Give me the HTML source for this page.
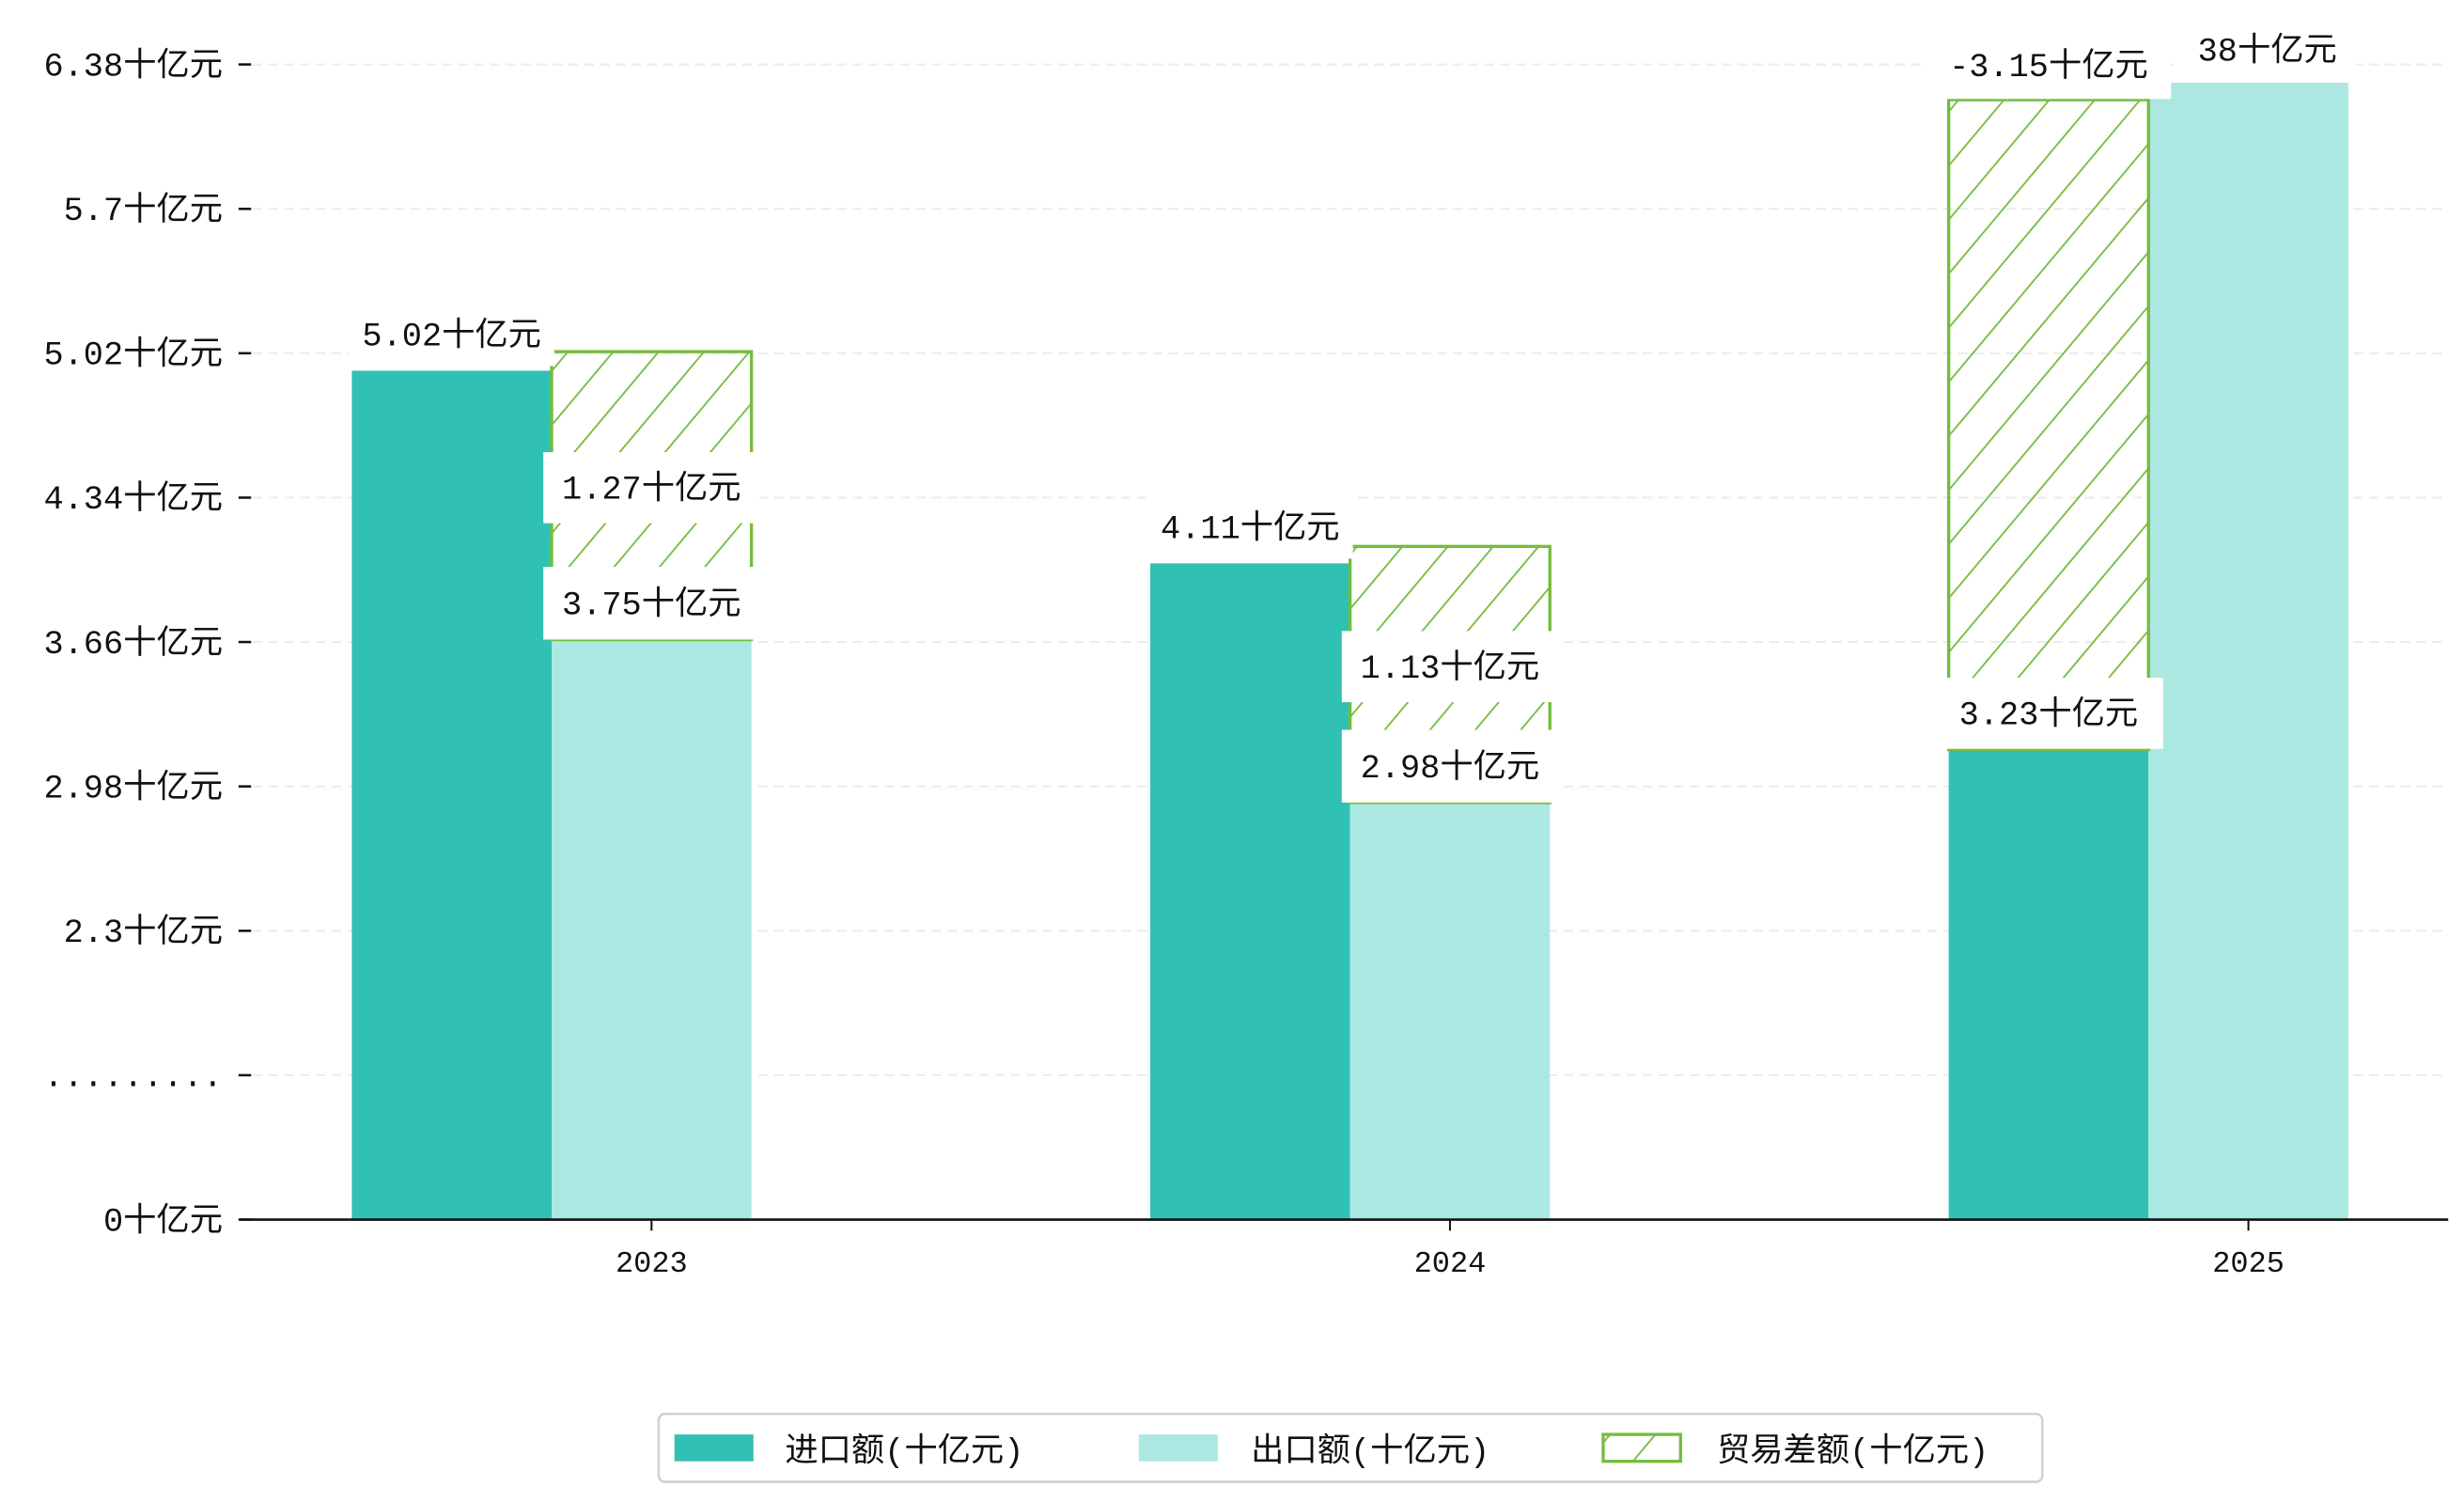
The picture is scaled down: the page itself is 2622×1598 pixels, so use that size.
<!DOCTYPE html>
<html><head><meta charset="utf-8"><style>
html,body{margin:0;padding:0;background:#fff;}
svg{display:block;}
text{font-family:"Liberation Mono","WenQuanYi Zen Hei","Noto Sans CJK SC",monospace;fill:#111;}
</style></head><body>
<svg id="chart" width="2622" height="1598" viewBox="0 0 1560 950.76" xmlns="http://www.w3.org/2000/svg">
<defs>
<pattern id="hatch" patternUnits="userSpaceOnUse" width="22" height="22" patternTransform="rotate(40)">
<line x1="0" y1="0" x2="0" y2="22" stroke="#76bc3e" stroke-width="2.2"/>
</pattern>
</defs>
<g id="grid"></g>
<g id="bars"></g>
<g id="labels"></g>
<g id="axes"></g>
<g>
<rect x="417" y="895" width="876" height="43" rx="4" fill="#fff" stroke="#d0d0d0" stroke-width="1.5"/>
<rect x="427" y="908" width="50" height="17" fill="#31c1b4"/>
<text x="497" y="925" font-size="21">进口额(十亿元)</text>
<rect x="721" y="908" width="50" height="17" fill="#abe8e2"/>
<text x="792" y="925" font-size="21">出口额(十亿元)</text>
<rect x="1015" y="908" width="49" height="17" fill="url(#hatch)" stroke="#76bc3e" stroke-width="2"/>
<text x="1087" y="925" font-size="21">贸易差额(十亿元)</text>
</g>
</svg>
<script>
const categories = ['2023','2024','2025'];
const importVals = [5.02, 4.11, 3.23];
const exportVals = [3.75, 2.98, 6.38];
const balanceLow = [3.75, 2.98, 3.23];
const balanceHigh = [5.11, 4.19, 6.30];
const balanceLabels = ['1.27十亿元','1.13十亿元','-3.15十亿元'];
const importLabels = ['5.02十亿元','4.11十亿元','3.23十亿元'];
const exportLabels = ['3.75十亿元','2.98十亿元','38十亿元'];
const yTickLabels = ['0十亿元','.........','2.3十亿元','2.98十亿元','3.66十亿元','4.34十亿元','5.02十亿元','5.7十亿元','6.38十亿元'];

const NS='http://www.w3.org/2000/svg';
function mk(tag, attrs, parent){const e=document.createElementNS(NS,tag);for(const k in attrs)e.setAttribute(k,attrs[k]);parent.appendChild(e);return e;}
const baseY=772, xL=152, xR=1550;
const y = v => baseY - (v - 1.01) * 134;
const groupX = i => 412.5 + i * 505.5;
const bw = 126.5;
const grid=document.getElementById('grid'), bars=document.getElementById('bars'), labels=document.getElementById('labels'), axes=document.getElementById('axes');

yTickLabels.forEach((t,i)=>{
  const ty = baseY - i*91.4;
  if(i>0){const g=mk('line',{x1:160,x2:xR,y1:ty,y2:ty,stroke:'#ececec','stroke-width':1.2,'stroke-dasharray':'6,4'},grid);
    
    }
  const tk=mk('line',{x1:151,x2:159,y1:ty,y2:ty,stroke:'#111','stroke-width':1.5},axes);
  
  
  const tx=mk('text',{x:141,y:ty+7,'text-anchor':'end','font-size':21},axes);
  tx.textContent=t;
  
  
});

function box(cx, cy, w, h, txt){
  const r=mk('rect',{x:cx-w/2,y:cy-h/2,width:w,height:h,fill:'#fff'},labels);
  
  
  const t=mk('text',{x:cx,y:cy+7,'text-anchor':'middle','font-size':21},labels);
  t.textContent=txt;
  
  
}

categories.forEach((c,i)=>{
  const cx=groupX(i);
  const ix=cx-1.5*bw, ex=cx-0.5*bw;
  const a=mk('rect',{x:ix,y:y(importVals[i]),width:bw,height:baseY-y(importVals[i]),fill:'#31c1b4'},bars);
  
  
  const b=mk('rect',{x:ex,y:y(exportVals[i]),width:bw,height:baseY-y(exportVals[i]),fill:'#abe8e2'},bars);
  
  
  const neg = balanceLabels[i].trim().startsWith('-');
  const hx = neg ? ix : ex;
  const h=mk('rect',{x:hx,y:y(balanceHigh[i]),width:bw,height:y(balanceLow[i])-y(balanceHigh[i]),fill:'url(#hatch)',stroke:'#76bc3e','stroke-width':2},bars);
  
  
  const hc = hx + bw/2;
  if(!neg){
    box(ix+bw/2, y(importVals[i])-23, 130, 40, importLabels[i]);
    box(hc, (y(balanceHigh[i])+y(balanceLow[i]))/2 - 5, 137, 45, balanceLabels[i]);
    box(hc, y(exportVals[i])-23, 137, 46, exportLabels[i]);
  } else {
    box(hc, y(importVals[i])-23, 145, 45, importLabels[i]);
    box(hc, y(balanceHigh[i])-22, 155, 43, balanceLabels[i]);
    box(ex+bw/2+12, y(exportVals[i])-21, 112, 41, exportLabels[i]);
  }
  const xt=mk('line',{x1:cx,x2:cx,y1:baseY,y2:baseY+7,stroke:'#111','stroke-width':1.2},axes);
  
  
  const xl=mk('text',{x:cx,y:baseY+33,'text-anchor':'middle','font-size':19},axes);
  xl.textContent=c;
  
  
});
const base=mk('line',{x1:xL,x2:xR,y1:baseY,y2:baseY,stroke:'#111','stroke-width':1.6},axes);


</script>
</body></html>
